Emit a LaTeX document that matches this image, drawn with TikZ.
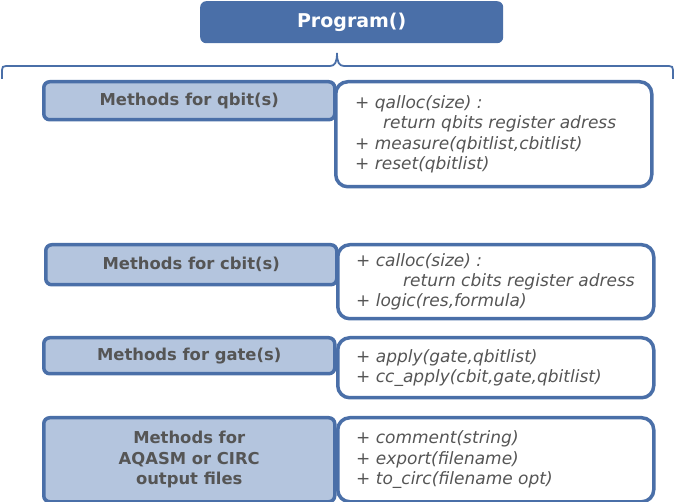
\documentclass[tikz,border=0pt]{standalone}
\usepackage{fontspec}
\setmainfont{DejaVu Sans}
\usetikzlibrary{positioning}
\definecolor{progblue}{RGB}{74,111,168}
\definecolor{lightblue}{RGB}{180,197,222}
\definecolor{textgray}{RGB}{85,85,85}

\begin{document}
\begin{tikzpicture}[x=1pt, y=-1pt,
    % ── node styles ─────────────────────────────────────────
    prog/.style = { fill=progblue, rounded corners=6pt, minimum width=303pt,
            minimum height=42pt, anchor=north west, inner sep=0pt, text=white,
            font=\bfseries\fontsize{19}{22}\selectfont, },
    methods/.style = { draw=progblue, line width=3.5pt, fill=lightblue,
            rounded corners=6pt, minimum width=291pt, anchor=north west,
            inner sep=0pt, align=center, text=textgray,
            font=\bfseries\fontsize{16.4}{20.5}\selectfont, },
    members/.style = { draw=progblue, line width=3.5pt, fill=white,
            rounded corners=12pt, minimum width=316pt, anchor=north west,
            inner sep=0pt, },
    memberlist/.style = { inner sep=0pt, align=left, text=textgray,
            font=\itshape\fontsize{17}{20.3}\selectfont, },
    brace/.style = {draw=progblue, line width=1.8pt}, ]
    \useasboundingbox (0,0) rectangle (675,502);

    % ============================================================
    % TOP — Program()
    % ============================================================
    \node[prog] (program) at (200,1) {Program()};

    \coordinate (brace-left)  at (2,79);
    \coordinate (brace-tip)   at (337,53);
    \coordinate (brace-right) at (673,79);
    \draw[brace] (brace-left) -- (2,70) .. controls (2,67) and (3,66) .. (6,66)
        -- (330,66) .. controls (335,66) and (337,62) .. (brace-tip)
        .. controls (337,62) and (339,66) .. (344,66)
        -- (669,66) .. controls (672,66) and (673,67) .. (673,70) -- (brace-right);

    % ============================================================
    % ROW 1 — qbit(s)
    % ============================================================
    \node[methods, minimum height=38pt] (qbit) at (42,80) {Methods for qbit(s)};
    \node[members, minimum height=105pt] (qbit-members) at (334,80) {};
    \node[memberlist, right=21pt of qbit-members.west] (qbit-list) {
        + qalloc(size) :\\
        \hspace*{28pt}return qbits register adress\\
        + measure(qbitlist,cbitlist)\\
        + reset(qbitlist)};

    % ============================================================
    % ROW 2 — cbit(s)
    % ============================================================
    \node[methods, minimum height=40pt] (cbit) at (44,243) {Methods for cbit(s)};
    \node[members, minimum height=74pt] (cbit-members) at (336,243) {};
    \node[memberlist, right=20pt of cbit-members.west] (cbit-list) {
        + calloc(size) :\\
        \hspace*{47pt}return cbits register adress\\
        + logic(res,formula)};

    % ============================================================
    % ROW 3 — gate(s)
    % ============================================================
    \node[methods, minimum height=36pt] (gate) at (42,336) {Methods for gate(s)};
    \node[members, minimum height=60pt] (gate-members) at (336,336) {};
    \node[memberlist, right=20pt of gate-members.west] (gate-list) {
        + apply(gate,qbitlist)\\
        + cc\_apply(cbit,gate,qbitlist)};

    % ============================================================
    % ROW 4 — output files
    % ============================================================
    \node[methods, minimum height=84pt] (files) at (42,416)
        {Methods for\\AQASM or CIRC\\output files};
    \node[members, minimum height=84pt] (files-members) at (336,416) {};
    \node[memberlist, right=20pt of files-members.west] (files-list) {
        + comment(string)\\
        + export(filename)\\
        + to\_circ(filename opt)};

\end{tikzpicture}
\end{document}
